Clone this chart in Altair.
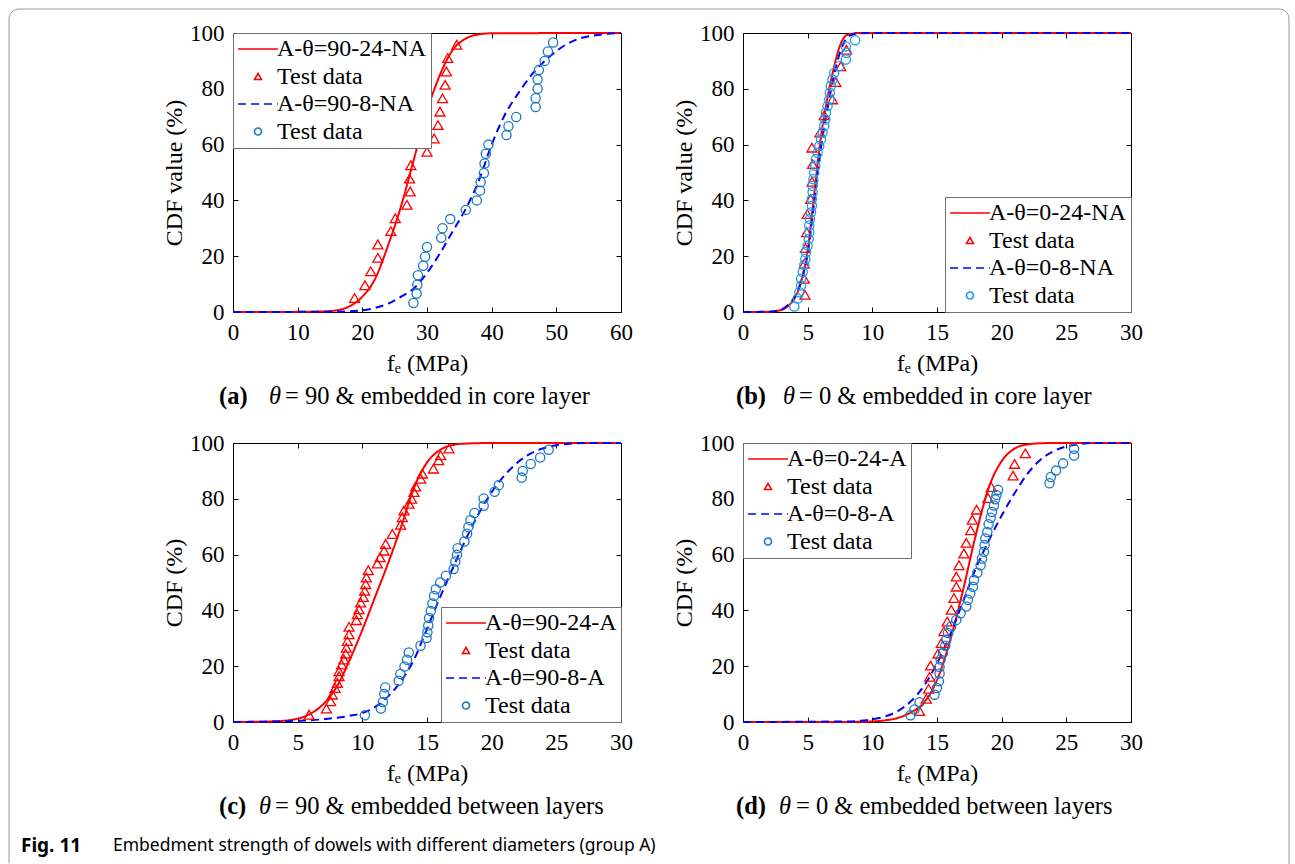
import altair as alt
import pandas as pd

# ------------------------------------------------------------------
# Data (f_e in MPa, CDF in %)
# ------------------------------------------------------------------
# (a) theta = 90, embedded in core layer
A_FIT24_X = [0, 10, 14, 16, 18, 20, 22, 24, 26, 28, 30, 32, 34, 36, 38, 40, 60]
A_FIT24_Y = [0, 0.05, 0.2, 0.6, 2, 5.5, 12, 24, 38, 55, 72, 85, 94, 98, 99.5, 99.9, 100]
A_FIT8_X = [0, 15, 20, 22, 24, 26, 28, 30, 32, 34, 36, 38, 40, 42, 44, 46, 48, 50, 52, 54, 56, 58, 60]
A_FIT8_Y = [0, 0.1, 0.6, 1.5, 3, 5.5, 8.5, 14, 21, 29, 37, 47, 60, 70.5, 78, 84.5, 89.5, 93.5, 96.5, 98.3, 99.2, 99.7, 100]
A_TEST24_X = [18.8, 20.4, 21.3, 22.4, 22.4, 24.4, 25.1, 26.9, 27.4, 27.3, 27.5, 30.0, 31.1, 31.7, 32.0,
              32.4, 32.8, 33.0, 33.2, 34.6]
A_TEST24_Y = [5.0, 9.6, 14.6, 19.4, 24.2, 29.0, 33.6, 38.4, 43.2, 47.8, 52.6, 57.4, 62.2, 67.0, 71.8,
              76.6, 81.4, 86.2, 91.0, 95.8]
A_TEST8_X = [27.9, 28.4, 28.5, 28.6, 29.4, 29.7, 30.0, 32.2, 32.4, 33.6, 36.0, 37.7, 38.2, 38.3, 38.8,
             38.9, 39.1, 39.5, 42.3, 42.6, 43.8, 46.8, 46.8, 47.1, 47.1, 47.3, 48.2, 48.7, 49.5]
A_TEST8_Y = [3.2, 6.6, 9.8, 13.2, 16.6, 19.8, 23.3, 26.6, 30.0, 33.3, 36.6, 40.0, 43.5, 46.6, 49.8,
             53.2, 56.7, 60.0, 63.4, 66.6, 69.9, 73.5, 76.6, 80.0, 83.3, 86.7, 90.0, 93.4, 96.6]

# (b) theta = 0, embedded in core layer
B_FIT24_X = [0, 2, 3, 3.5, 4, 4.5, 5, 5.5, 6, 6.5, 7, 7.5, 8, 8.5, 9, 30]
B_FIT24_Y = [0, 0.1, 0.8, 2.2, 5, 11, 22, 42, 62, 76, 87, 95.5, 99.2, 99.8, 100, 100]
B_FIT8_X = [0, 2, 3, 3.5, 4, 4.5, 5, 5.5, 6, 6.5, 7, 7.5, 8, 8.5, 9, 10, 30]
B_FIT8_Y = [0, 0.1, 1.0, 2.6, 5.5, 11, 21, 39, 58, 72, 84, 93, 98, 99.5, 99.9, 100, 100]
B_TEST24_X = [4.79, 4.74, 4.74, 4.82, 4.92, 4.97, 5.23, 5.33, 5.38, 5.33, 5.95, 6.28, 6.92, 7.18, 7.56, 8.0]
B_TEST24_Y = [6.2, 11.9, 17.3, 22.9, 28.6, 35.1, 40.5, 46.7, 53.0, 58.9, 64.3, 70.5, 76.2, 82.4, 88.1, 94.0]
B_TEST8_X = [3.97, 4.23, 4.36, 4.49, 4.49, 4.62, 4.74, 4.82, 4.87, 5.0, 5.08, 5.13, 5.13, 5.18, 5.26,
             5.33, 5.33, 5.38, 5.38, 5.44, 5.51, 5.59, 5.64, 5.77, 5.9, 6.03, 6.15, 6.28, 6.36, 6.41,
             6.54, 6.67, 6.72, 6.79, 6.92, 7.05, 7.44, 7.95, 8.0, 7.95, 8.67]
B_TEST8_Y = [2.0, 4.8, 7.1, 9.5, 11.9, 14.3, 16.9, 19.0, 21.4, 23.8, 26.2, 28.6, 31.0, 33.3, 35.7,
             38.1, 40.5, 42.9, 45.2, 47.6, 50.0, 52.4, 54.8, 57.1, 59.5, 61.9, 64.3, 66.7, 69.0, 71.4,
             73.8, 76.2, 78.6, 81.0, 83.3, 85.7, 88.1, 90.5, 92.9, 95.2, 97.4]

# (c) theta = 90, embedded between layers
C_FIT24_X = [0, 3, 5, 6, 7, 8, 9, 10, 11, 12, 13, 14, 15, 16, 17, 18, 20, 30]
C_FIT24_Y = [0, 0.2, 1.2, 3.0, 6.5, 12.5, 22, 33, 45, 57, 70, 84, 93, 97.5, 99.3, 99.8, 100, 100]
C_FIT8_X = [0, 5, 7, 9, 10, 11, 12, 13, 14, 15, 16, 17, 18, 19, 20, 21, 22, 23, 24, 25, 26, 27, 30]
C_FIT8_Y = [0, 0.4, 1, 2.2, 3.2, 5.4, 9.2, 14.7, 22.4, 33.4, 44.6, 55.2, 65.5, 74.7, 82.4, 88.4, 93,
            96.2, 98.1, 99.2, 99.7, 100, 100]
C_TEST24_X = [5.88, 7.22, 7.55, 7.68, 7.89, 8.07, 8.2, 8.2, 8.4, 8.58, 8.71, 8.76, 8.84, 8.97, 8.97,
              9.54, 9.61, 9.74, 9.87, 10.08, 10.18, 10.26, 10.31, 10.46, 11.16, 11.37, 11.68, 11.8,
              12.32, 12.96, 13.09, 13.22, 13.61, 13.81, 13.99, 14.12, 14.51, 14.64, 15.5, 15.9, 16.06, 16.7]
C_TEST24_Y = [2.6, 4.8, 7.4, 9.8, 12.2, 14.0, 16.4, 18.2, 20.6, 22.4, 24.5, 26.6, 29.0, 31.4, 34.1,
              36.5, 38.6, 40.4, 42.8, 44.8, 47.0, 49.4, 51.8, 54.4, 56.8, 59.0, 61.4, 63.8,
              67.4, 70.7, 73.4, 75.8, 78.2, 80.0, 82.4, 84.4, 87.2, 89.0, 90.8, 93.8, 95.6, 98.0]
C_TEST8_X = [10.2, 11.43, 11.59, 11.69, 11.77, 12.81, 12.94, 13.26, 13.46, 13.59, 14.5, 14.97, 15.03,
             15.1, 15.16, 15.29, 15.42, 15.55, 15.68, 16.02, 16.46, 17.06, 17.19, 17.32, 17.37, 17.89,
             18.1, 18.2, 18.36, 18.67, 19.38, 19.38, 20.23, 20.55, 22.32, 22.4, 23.02, 23.75, 24.4]
C_TEST8_Y = [2.4, 4.8, 7.2, 10.0, 12.4, 14.8, 17.2, 19.9, 22.3, 24.9, 27.3, 30.1, 32.2, 34.6, 37.3,
             39.8, 42.5, 45.2, 47.6, 50.0, 52.4, 54.8, 57.5, 59.9, 62.3, 64.7, 67.5, 69.9, 72.3, 74.9,
             77.5, 80.1, 82.5, 84.9, 87.6, 90.0, 92.5, 94.8, 97.6]

# (d) theta = 0, embedded between layers
D_FIT24_X = [0, 9, 10, 11, 12, 13, 14, 15, 16, 17, 18, 19, 20, 21, 22, 23, 24, 30]
D_FIT24_Y = [0, 0.05, 0.2, 0.6, 1.5, 3.5, 7, 15, 29, 47, 67, 84, 93.5, 98, 99.5, 99.9, 100, 100]
D_FIT8_X = [0, 8, 10, 11, 12, 13, 14, 15, 16, 17, 18, 19, 20, 21, 22, 23, 24, 25, 26, 27, 30]
D_FIT8_Y = [0, 0.2, 1, 2, 4, 7.5, 13, 21, 31, 43, 55, 65, 74, 82, 89, 94, 97, 98.8, 99.6, 100, 100]
D_TEST24_X = [13.65, 14.17, 14.35, 14.43, 14.5, 15.07, 15.33, 15.54, 15.79, 16.1, 16.31, 16.49, 16.49,
              16.7, 17.08, 17.26, 17.6, 17.73, 18.06, 18.94, 19.2, 20.88, 21.0, 21.83]
D_TEST24_Y = [3.9, 8.3, 11.9, 16.2, 20.2, 24.5, 28.3, 32.5, 36.0, 40.2, 44.4, 48.5, 52.1,
              56.2, 60.4, 64.2, 68.7, 72.5, 76.1, 80.3, 84.2, 88.3, 92.5, 96.3]
D_TEST8_X = [12.95, 13.26, 13.65, 14.81, 14.99, 15.15, 15.2, 15.2, 15.28, 15.46, 15.64, 15.72, 15.85,
             16.1, 16.49, 16.83, 17.26, 17.39, 17.57, 17.78, 17.86, 18.12, 18.37, 18.48, 18.63, 18.68,
             18.74, 18.89, 18.99, 19.15, 19.25, 19.4, 19.5, 19.6, 19.72, 23.7, 23.8, 24.2, 24.75, 25.6, 25.6]
D_TEST8_Y = [2.4, 4.5, 7.1, 9.8, 12.2, 14.6, 17.4, 19.7, 22.4, 24.7, 27.3, 29.5, 31.9,
             34.2, 36.6, 39.0, 41.4, 43.8, 46.1, 48.5, 50.9, 53.5, 56.2, 58.6, 61.0, 63.4,
             65.8, 68.1, 70.9, 73.2, 75.3, 77.6, 79.8, 81.4, 83.2, 85.6, 87.8, 90.1, 92.7, 95.5, 97.9]

SERIES = ["fit24", "test24", "fit8", "test8"]
Y_TICKS = [0, 20, 40, 60, 80, 100]

RED = "#ff0000"
BLUE = "#0000ff"
SERIF = "Liberation Serif"
SANS = "Noto Sans"
W, H = 388, 279

ONE = pd.DataFrame({"k": [0]})

SYM_EXPR = ("datum.value == 'fit24' || datum.value == 'fit8' ? 'M-5.7,0L5.7,0' : "
            "datum.value == 'test24' ? 'triangle-up' : 'circle'")


def text(s, x, y, size=24.5, weight="normal", style="normal", font=SERIF):
    return alt.Chart(ONE).mark_text(
        text=s, align="left", baseline="middle", font=font, fontSize=size,
        fontWeight=weight, fontStyle=style, color="black"
    ).encode(x=alt.value(x), y=alt.value(y))


def panel(fx24, fy24, fx8, fy8, tx24, ty24, tx8, ty8, lab24, lab8, xmax, xstep,
          ytitle, orient, ccolor, caption, extra=()):
    xticks = list(range(0, xmax + 1, xstep))
    lines = pd.DataFrame({
        "x": fx24 + fx8, "y": fy24 + fy8,
        "series": ["fit24"] * len(fx24) + ["fit8"] * len(fx8),
    })
    tri = pd.DataFrame({"x": tx24, "y": ty24, "series": ["test24"] * len(tx24)})
    cir = pd.DataFrame({"x": tx8, "y": ty8, "series": ["test8"] * len(tx8)})

    xs = alt.Scale(domain=[0, xmax], nice=False, zero=False)
    ys = alt.Scale(domain=[0, 100], nice=False, zero=False)

    label_expr = (f"datum.value == 'fit24' ? '{lab24}' : "
                  f"datum.value == 'fit8' ? '{lab8}' : 'Test data'")
    legend = alt.Legend(
        title=None, orient=orient, offset=0, padding=4, rowPadding=3.5,
        strokeColor="#6e6e6e", fillColor="white", cornerRadius=0,
        labelFont=SERIF, labelFontSize=24, labelColor="black", labelLimit=400,
        labelExpr=label_expr, symbolType={"expr": SYM_EXPR}, symbolSize=49,
        symbolStrokeWidth=1.6, symbolOffset=9, labelOffset=7, symbolOpacity=1,
    )
    color = alt.Color("series:N", scale=alt.Scale(domain=SERIES, range=[RED, RED, BLUE, ccolor]),
                      legend=legend)
    dash = alt.StrokeDash("series:N",
                          scale=alt.Scale(domain=SERIES, range=[[1, 0], [1, 0], [8, 5], [1, 0]]),
                          legend=legend)

    ax_main = alt.Axis(orient="bottom", values=xticks, ticks=False, domain=False, grid=False,
                       labelPadding=9, labelFlush=False, labelOverlap=False,
                       title="fₑ (MPa)", titlePadding=7)
    ay_main = alt.Axis(orient="left", values=Y_TICKS, ticks=False, domain=False, grid=False,
                       labelPadding=9, labelFlush=False, labelOverlap=False,
                       title=ytitle, titlePadding=3)
    ax_bot = alt.Axis(orient="bottom", offset=-5, values=xticks, tickSize=5, labels=False,
                      domain=False, grid=False, title=None)
    ay_left = alt.Axis(orient="left", offset=-5, values=Y_TICKS, tickSize=5, labels=False,
                       domain=False, grid=False, title=None)
    ax_top = alt.Axis(orient="top", offset=-5, values=xticks, tickSize=5, labels=False,
                      domain=False, grid=False, title=None)
    ay_right = alt.Axis(orient="right", offset=-5, values=Y_TICKS, tickSize=5, labels=False,
                        domain=False, grid=False, title=None)

    line_ch = alt.Chart(lines).mark_line(strokeWidth=2, interpolate="monotone").encode(
        x=alt.X("x:Q", scale=xs, axis=ax_main),
        y=alt.Y("y:Q", scale=ys, axis=ay_main),
        color=color, strokeDash=dash,
    )
    tri_ch = alt.Chart(tri).mark_point(shape="triangle-up", filled=False, size=100,
                                       strokeWidth=1.3, opacity=1).encode(
        x=alt.X("x:Q", scale=xs, axis=ax_bot),
        y=alt.Y("y:Q", scale=ys, axis=ay_left),
        color=color,
    )
    cir_ch = alt.Chart(cir).mark_point(shape="circle", filled=False, size=85,
                                       strokeWidth=1.3, opacity=1).encode(
        x=alt.X("x:Q", scale=xs, axis=ax_top),
        y=alt.Y("y:Q", scale=ys, axis=ay_right),
        color=color,
    )
    cap = [text(s, x, 364, weight=wt, style=st) for (s, x, wt, st) in caption]
    return alt.layer(line_ch, tri_ch, cir_ch, *cap, *extra).resolve_axis(
        x="independent", y="independent").properties(width=W, height=H)


frame = alt.Chart(ONE).mark_rect(
    fillOpacity=0, stroke="#9a9a9a", strokeWidth=1,
    cornerRadiusTopLeft=10, cornerRadiusTopRight=10,
    strokeDash=[2121, 1280, 900],
).encode(x=alt.value(-224), x2=alt.value(1056), y=alt.value(-24), y2=alt.value(831))

fig_caption = [
    text("Fig. 11", -212, 403, size=19, weight="bold", font=SANS),
    text("Embedment strength of dowels with different diameters (group A)", -120, 403,
         size=17.5, font=SANS),
]

pa = panel(A_FIT24_X, A_FIT24_Y, A_FIT8_X, A_FIT8_Y, A_TEST24_X, A_TEST24_Y, A_TEST8_X, A_TEST8_Y,
           "A-θ=90-24-NA", "A-θ=90-8-NA", 60, 10, "CDF value (%)", "top-left", "#1a78c2",
           [("(a)", -14, "bold", "normal"), ("θ", 36, "normal", "italic"),
            ("= 90 & embedded in core layer", 52, "normal", "normal")], extra=[frame])
pb = panel(B_FIT24_X, B_FIT24_Y, B_FIT8_X, B_FIT8_Y, B_TEST24_X, B_TEST24_Y, B_TEST8_X, B_TEST8_Y,
           "A-θ=0-24-NA", "A-θ=0-8-NA", 30, 5, "CDF value (%)", "bottom-right", "#1f9ae8",
           [("(b)", -7, "bold", "normal"), ("θ", 40, "normal", "italic"),
            ("= 0 & embedded in core layer", 56, "normal", "normal")])
pc = panel(C_FIT24_X, C_FIT24_Y, C_FIT8_X, C_FIT8_Y, C_TEST24_X, C_TEST24_Y, C_TEST8_X, C_TEST8_Y,
           "A-θ=90-24-A", "A-θ=90-8-A", 30, 5, "CDF (%)", "bottom-right", "#1a78c2",
           [("(c)", -14, "bold", "normal"), ("θ", 26, "normal", "italic"),
            ("= 90 & embedded between layers", 42, "normal", "normal")], extra=fig_caption)
pd_ = panel(D_FIT24_X, D_FIT24_Y, D_FIT8_X, D_FIT8_Y, D_TEST24_X, D_TEST24_Y, D_TEST8_X, D_TEST8_Y,
            "A-θ=0-24-A", "A-θ=0-8-A", 30, 5, "CDF (%)", "top-left", "#1a78c2",
            [("(d)", -7, "bold", "normal"), ("θ", 36, "normal", "italic"),
             ("= 0 & embedded between layers", 53, "normal", "normal")])

chart = alt.concat(
    pa, pb, pc, pd_, columns=2, spacing={"row": 131, "column": 122}, bounds="flush"
).resolve_scale(
    color="independent", strokeDash="independent"
).configure_view(
    stroke="black", strokeWidth=1
).configure_axis(
    labelFont=SERIF, labelFontSize=23, labelColor="black",
    titleFont=SERIF, titleFontSize=24, titleFontWeight="normal", titleColor="black",
    tickColor="black", tickWidth=1,
).configure_legend(
    labelFont=SERIF, labelFontSize=24, labelColor="black"
).properties(
    padding={"left": 8, "top": 8, "right": 0, "bottom": 0}, background="white"
)

chart.save("out.html", embed_options={"renderer": "svg", "actions": False})
